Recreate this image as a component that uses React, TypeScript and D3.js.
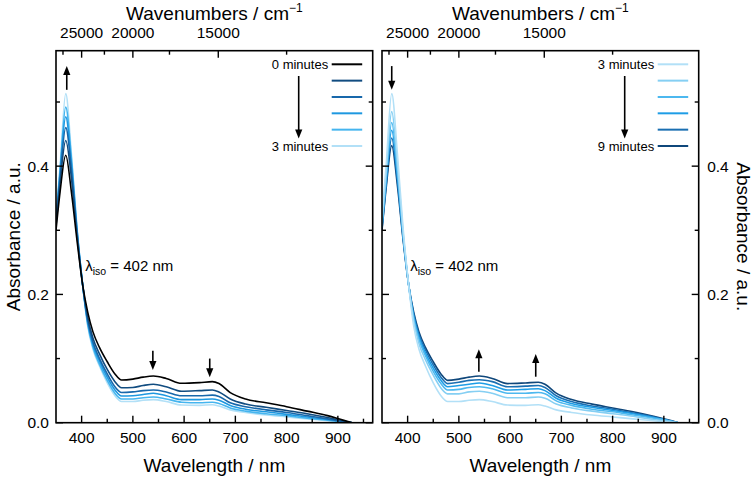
import React from "react";
import * as d3 from "d3";

// ---------- DATA ----------
const wavelengths = [350, 358, 369, 380, 391, 402, 412, 422, 435, 450, 465, 478, 500, 520, 540, 565, 595, 630, 655, 668, 690, 720, 760, 800, 840, 880, 910, 928];

// Left panel: 0 → 3 minutes
const left0 = [0.300, 0.360, 0.417, 0.360, 0.284, 0.215, 0.172, 0.142, 0.117, 0.095, 0.076, 0.0665, 0.068, 0.071, 0.0727, 0.069, 0.0614, 0.0625, 0.064, 0.061, 0.047, 0.037, 0.031, 0.025, 0.018, 0.011, 0.004, 0.0];
const left1 = [0.307, 0.374, 0.440, 0.382, 0.292, 0.215, 0.164, 0.132, 0.107, 0.083, 0.064, 0.0545, 0.055, 0.058, 0.060, 0.056, 0.049, 0.050, 0.051, 0.048, 0.037, 0.029, 0.024, 0.019, 0.014, 0.008, 0.003, 0.0];
const left2 = [0.312, 0.383, 0.460, 0.395, 0.296, 0.215, 0.159, 0.126, 0.100, 0.076, 0.056, 0.047, 0.048, 0.050, 0.051, 0.048, 0.042, 0.042, 0.043, 0.041, 0.031, 0.025, 0.020, 0.016, 0.011, 0.006, 0.002, 0.0];
const left3 = [0.315, 0.390, 0.477, 0.404, 0.300, 0.215, 0.156, 0.122, 0.096, 0.071, 0.051, 0.0416, 0.042, 0.044, 0.046, 0.042, 0.036, 0.036, 0.037, 0.035, 0.027, 0.021, 0.017, 0.013, 0.009, 0.005, 0.002, 0.0];
const left4 = [0.318, 0.395, 0.492, 0.413, 0.302, 0.215, 0.153, 0.118, 0.091, 0.066, 0.046, 0.037, 0.037, 0.039, 0.040, 0.037, 0.032, 0.031, 0.032, 0.030, 0.023, 0.018, 0.014, 0.011, 0.007, 0.004, 0.001, 0.0];
const left5 = [0.320, 0.400, 0.513, 0.420, 0.305, 0.215, 0.150, 0.115, 0.088, 0.062, 0.042, 0.033, 0.033, 0.035, 0.036, 0.033, 0.0275, 0.027, 0.028, 0.026, 0.020, 0.016, 0.012, 0.009, 0.006, 0.003, 0.001, 0.0];

// Right panel: 3 → 9 minutes
const right0 = [0.320, 0.400, 0.513, 0.420, 0.305, 0.215, 0.150, 0.115, 0.088, 0.062, 0.042, 0.033, 0.033, 0.035, 0.036, 0.033, 0.0275, 0.027, 0.028, 0.026, 0.020, 0.016, 0.012, 0.009, 0.006, 0.003, 0.001, 0.0];
const right1 = [0.313, 0.388, 0.485, 0.403, 0.298, 0.215, 0.158, 0.124, 0.098, 0.074, 0.054, 0.045, 0.045, 0.048, 0.049, 0.046, 0.039, 0.039, 0.040, 0.038, 0.029, 0.023, 0.018, 0.014, 0.010, 0.005, 0.002, 0.0];
const right2 = [0.309, 0.381, 0.468, 0.393, 0.295, 0.215, 0.162, 0.130, 0.104, 0.080, 0.061, 0.051, 0.052, 0.055, 0.056, 0.053, 0.046, 0.046, 0.047, 0.045, 0.034, 0.027, 0.021, 0.017, 0.012, 0.007, 0.003, 0.0];
const right3 = [0.306, 0.376, 0.456, 0.385, 0.292, 0.215, 0.165, 0.134, 0.108, 0.085, 0.066, 0.056, 0.058, 0.060, 0.062, 0.058, 0.051, 0.052, 0.053, 0.050, 0.038, 0.030, 0.024, 0.019, 0.014, 0.008, 0.003, 0.0];
const right4 = [0.303, 0.370, 0.444, 0.378, 0.289, 0.215, 0.169, 0.138, 0.113, 0.090, 0.071, 0.061, 0.063, 0.066, 0.067, 0.064, 0.056, 0.057, 0.058, 0.055, 0.042, 0.033, 0.026, 0.021, 0.015, 0.009, 0.003, 0.0];
const right5 = [0.300, 0.365, 0.432, 0.370, 0.286, 0.215, 0.172, 0.142, 0.117, 0.095, 0.076, 0.066, 0.068, 0.071, 0.0727, 0.069, 0.061, 0.062, 0.063, 0.060, 0.046, 0.036, 0.029, 0.023, 0.017, 0.010, 0.004, 0.0];

const leftColors = ["#000000", "#114c80", "#1868ab", "#1e98e0", "#45b5ef", "#b2e0f7"];
const rightColors = ["#b2e0f7", "#85cff3", "#4cb8ef", "#1e9de6", "#1a6fb2", "#0f477b"];
const leftLegend = ["0 minutes", "", "", "", "", "3 minutes"];
const rightLegend = ["3 minutes", "", "", "", "", "9 minutes"];

const xMajorTicks = [400, 500, 600, 700, 800, 900];
const xMinorTicks = [350, 450, 550, 650, 750, 850, 950];
const yMajorTicks = [0, 0.2, 0.4];
const yMinorTicks = [0.1, 0.3, 0.5];
const wnMajorTicks = [25000, 20000, 15000];
const wnMinorTicks = [27500, 22500, 17500, 12500];

const isoLabel = "402 nm";

// arrows: [wavelength, fromAbs, toAbs]
const leftArrows: [number, number, number][] = [[371, 0.519, 0.556], [539, 0.112, 0.082], [650, 0.100, 0.071]];
const rightArrows: [number, number, number][] = [[369, 0.556, 0.519], [539, 0.0795, 0.1144], [650, 0.0717, 0.107]];

// ---------- LAYOUT ----------
const W = 756, H = 481;
const TOP = 50.7, BOTTOM = 422.7;
const FONT = "'Liberation Sans', Arial, sans-serif";

function Arrow({ x, y1, y2 }: { x: number; y1: number; y2: number }) {
  const dir = y2 > y1 ? 1 : -1;
  const hl = 9, hw = 3.6;
  return (
    <g>
      <line x1={x} x2={x} y1={y1} y2={y2 - dir * hl * 0.7} stroke="#000" strokeWidth={1.6} />
      <path d={`M${x},${y2} L${x - hw},${y2 - dir * hl} L${x + hw},${y2 - dir * hl} Z`} fill="#000" />
    </g>
  );
}

function Panel({ x0, x1, series, colors, legend, arrows, side, isoWl }: any) {
  const x = d3.scaleLinear().domain([350, 968]).range([x0, x1]);
  const y = d3.scaleLinear().domain([0, 0.58]).range([BOTTOM, TOP]);
  const line = d3.line<number>()
    .x((_, i) => x(wavelengths[i]))
    .y((d) => y(d))
    .curve(d3.curveMonotoneX);
  const cx = (x0 + x1) / 2;
  const legX1 = x1 - 41, legX2 = x1 - 10.5;
  const rowY = (i: number) => 64.3 + i * 16.34;
  const order = series.map((_: any, i: number) => i).reverse();
  return (
    <g fontFamily={FONT}>
      <defs>
        <clipPath id={`clip-${side}`}>
          <rect x={x0} y={TOP} width={x1 - x0} height={BOTTOM - TOP} />
        </clipPath>
      </defs>
      <g clipPath={`url(#clip-${side})`}>
        {order.map((i: number) => (
          <path key={i} d={line(series[i]) || ""} fill="none" stroke={colors[i]} strokeWidth={1.6} />
        ))}
      </g>
      {/* frame */}
      <rect x={x0} y={TOP} width={x1 - x0} height={BOTTOM - TOP} fill="none" stroke="#000" strokeWidth={1.6} />
      {/* bottom ticks */}
      {xMajorTicks.map((t) => (
        <g key={"xM" + t}>
          <line x1={x(t)} x2={x(t)} y1={BOTTOM} y2={BOTTOM - 7} stroke="#000" strokeWidth={1.4} />
          <text x={x(t)} y={443} fontSize={15.5} textAnchor="middle">{t}</text>
        </g>
      ))}
      {xMinorTicks.filter((t) => x(t) > x0 + 1 && x(t) < x1 - 1).map((t) => (
        <line key={"xm" + t} x1={x(t)} x2={x(t)} y1={BOTTOM} y2={BOTTOM - 4} stroke="#000" strokeWidth={1.4} />
      ))}
      {/* top wavenumber ticks */}
      {wnMajorTicks.map((w) => (
        <g key={"wM" + w}>
          <line x1={x(1e7 / w)} x2={x(1e7 / w)} y1={TOP} y2={TOP + 7} stroke="#000" strokeWidth={1.4} />
          <text x={x(1e7 / w)} y={37.5} fontSize={15.5} textAnchor="middle">{w}</text>
        </g>
      ))}
      {wnMinorTicks.map((w) => (
        <line key={"wm" + w} x1={x(1e7 / w)} x2={x(1e7 / w)} y1={TOP} y2={TOP + 4} stroke="#000" strokeWidth={1.4} />
      ))}
      {/* y ticks both sides */}
      {[...yMajorTicks, ...yMinorTicks].map((t) => {
        const len = yMajorTicks.includes(t) ? 7 : 4;
        return (
          <g key={"y" + t}>
            <line x1={x0} x2={x0 + len} y1={y(t)} y2={y(t)} stroke="#000" strokeWidth={1.4} />
            <line x1={x1} x2={x1 - len} y1={y(t)} y2={y(t)} stroke="#000" strokeWidth={1.4} />
          </g>
        );
      })}
      {yMajorTicks.map((t) =>
        side === "left" ? (
          <text key={"yl" + t} x={x0 - 7} y={y(t) + 5.5} fontSize={15.5} textAnchor="end">{t.toFixed(1)}</text>
        ) : (
          <text key={"yl" + t} x={x1 + 8.5} y={y(t) + 5.5} fontSize={15.5} textAnchor="start">{t.toFixed(1)}</text>
        )
      )}
      {/* axis titles */}
      <text x={cx} y={472} fontSize={19} textAnchor="middle">Wavelength / nm</text>
      <text x={cx} y={20} fontSize={19} textAnchor="middle">
        Wavenumbers / cm<tspan fontSize={12} dy={-8}>−1</tspan>
      </text>
      {side === "left" ? (
        <text transform={`translate(20,${(TOP + BOTTOM) / 2}) rotate(-90)`} fontSize={19} textAnchor="middle">Absorbance / a.u.</text>
      ) : (
        <text transform={`translate(737,${(TOP + BOTTOM) / 2}) rotate(90)`} fontSize={19} textAnchor="middle">Absorbance / a.u.</text>
      )}
      {/* legend */}
      {colors.map((c: string, i: number) => (
        <g key={"lg" + i}>
          <line x1={legX1} x2={legX2} y1={rowY(i)} y2={rowY(i)} stroke={c} strokeWidth={2} />
          {legend[i] && (
            <text x={legX1 - 3.5} y={rowY(i) + 4.6} fontSize={13} textAnchor="end">{legend[i]}</text>
          )}
        </g>
      ))}
      <Arrow x={legX1 - 33} y1={76} y2={138.5} />
      {/* annotation arrows */}
      {arrows.map((a: [number, number, number], i: number) => (
        <Arrow key={"ar" + i} x={x(a[0])} y1={y(a[1])} y2={y(a[2])} />
      ))}
      {/* isosbestic label */}
      <text x={x(isoWl)} y={y(0.236)} fontSize={15}>
        λ<tspan fontSize={10.5} dy={4}>iso</tspan><tspan dy={-4}> = {isoLabel}</tspan>
      </text>
    </g>
  );
}

export default function App() {
  return (
    <svg width={W} height={H} viewBox={`0 0 ${W} ${H}`} style={{ position: "absolute", left: 0, top: 0, background: "#fff" }}>
      <rect x={0} y={0} width={W} height={H} fill="#fff" />
      <Panel x0={56} x1={372.7} side="left" series={[left0, left1, left2, left3, left4, left5]} colors={leftColors}
        legend={leftLegend} arrows={leftArrows} isoWl={407} />
      <Panel x0={382} x1={698.7} side="right" series={[right0, right1, right2, right3, right4, right5]} colors={rightColors}
        legend={rightLegend} arrows={rightArrows} isoWl={405} />
    </svg>
  );
}
